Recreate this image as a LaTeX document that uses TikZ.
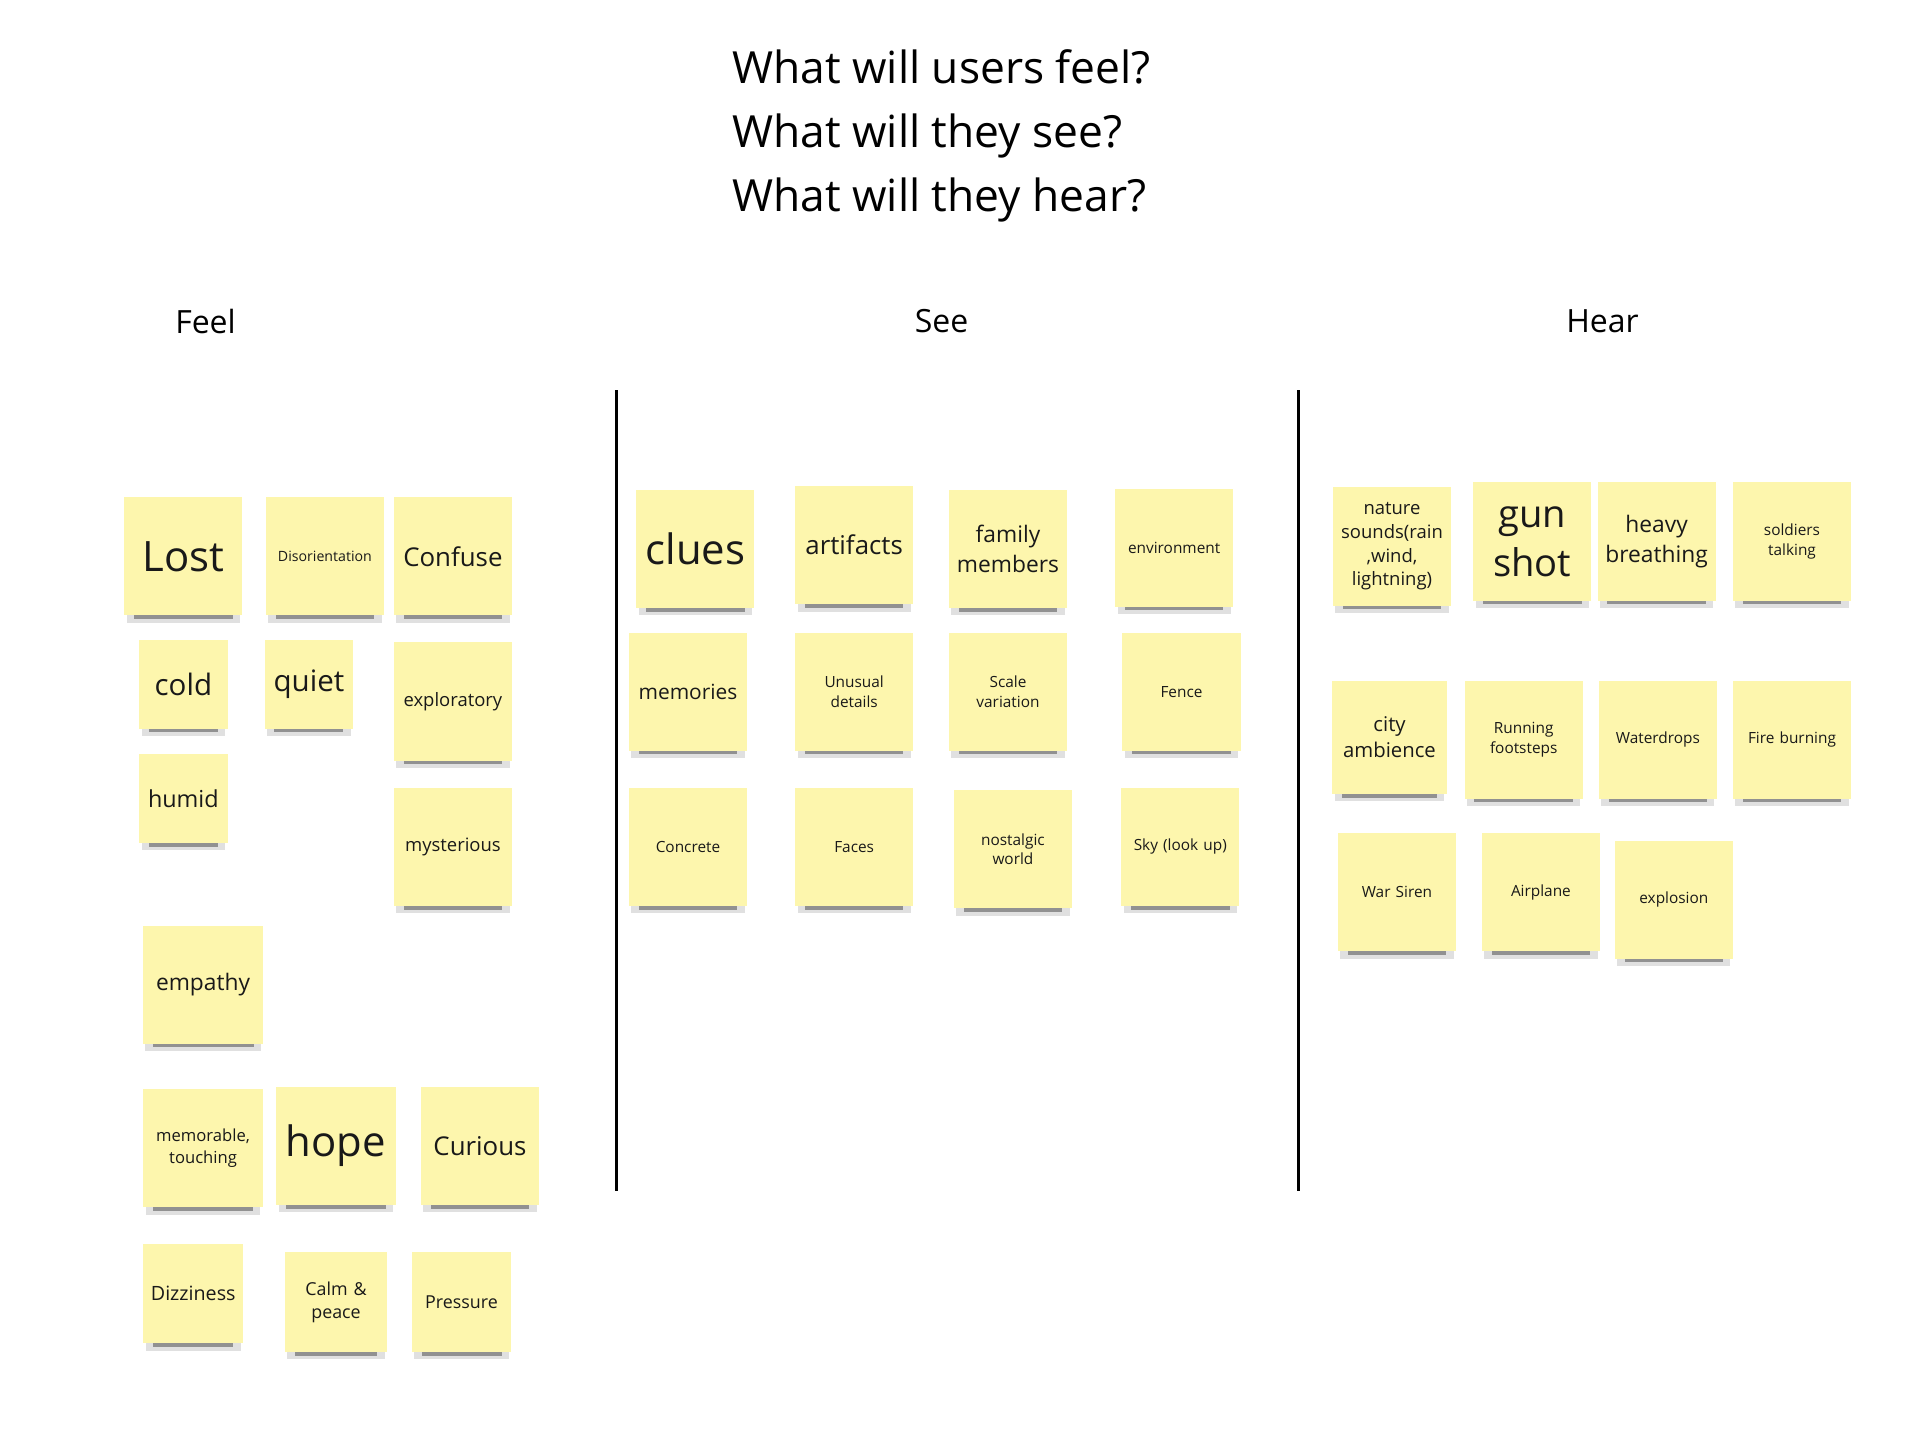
\documentclass[tikz,border=0pt]{standalone}
\usepackage{fontspec}
\setmainfont{Open Sans}
\definecolor{stick}{HTML}{FDF6AD}
\tikzset{sticky/.style={fill=stick,draw=none,inner sep=0pt,align=center,text=black!90}}
\newcommand\note[7]{%
 \pgfmathsetmacro\fs{#6*0.5}\pgfmathsetmacro\bs{#6*0.64}%
 \fill[black,opacity=0.12] (#2-#4/2+2,#3+#5/2-4) rectangle (#2+#4/2-2,#3+#5/2+6);
 \fill[black,opacity=0.35] (#2-#4/2+8,#3+#5/2-2) rectangle (#2+#4/2-8,#3+#5/2+3);
 \node[sticky,minimum width=#4*0.5pt,minimum height=#5*0.5pt,text width=#4*0.5pt-5pt,font=\fontsize{\fs}{\bs}\selectfont] (#1) at (#2,#3) {#7};}
\begin{document}
\begin{tikzpicture}[x=0.5pt,y=-0.5pt]
\useasboundingbox[fill=white] (0,0) rectangle (1560,1181);
\node[anchor=west,align=left,font=\fontsize{18}{26}\selectfont] (title) at (588,110) {What will users feel?\\What will they see?\\What will they hear?};
\node[font=\fontsize{13}{16}\selectfont] (feel) at (167,261) {Feel};
\node[font=\fontsize{13}{16}\selectfont] (see) at (765,261) {See};
\node[font=\fontsize{13}{16}\selectfont] (hear) at (1302,261) {Hear};
\coordinate (d1a) at (501,317); \coordinate (d1b) at (501,968);
\coordinate (d2a) at (1055,317); \coordinate (d2b) at (1055,968);
\draw[line width=1.1pt] (d1a)--(d1b); \draw[line width=1.1pt] (d2a)--(d2b);
% Feel
\note{lost}{149}{452}{96}{96}{34}{Lost}
\note{dis}{264}{452}{96}{96}{11.5}{Disorientation}
\note{conf}{368}{452}{96}{96}{21}{Confuse}
\note{cold}{149}{556}{72}{72}{24}{cold}
\note{quiet}{251}{556}{72}{72}{24}{quiet}
\note{expl}{368}{570}{96}{96}{15}{exploratory}
\note{humid}{149}{649}{72}{72}{19}{humid}
\note{myst}{368}{688}{96}{96}{15}{mysterious}
\note{emp}{165}{800}{98}{96}{18.5}{empathy}
\note{mem}{165}{933}{97}{96}{13.5}{memorable,\\touching}
\note{hope}{273}{931}{97}{96}{34}{hope}
\note{cur}{390}{931}{96}{96}{21}{Curious}
\note{diz}{157}{1051}{81}{81}{16}{Dizziness}
\note{calm}{273}{1058}{83}{81}{14.5}{Calm \&\\peace}
\note{press}{375}{1058}{81}{81}{14.5}{Pressure}
% See
\note{clues}{565}{446}{96}{96}{34}{clues}
\note{art}{694}{443}{96}{96}{21}{artifacts}
\note{fam}{819}{446}{96}{96}{18.5}{family\\members}
\note{env}{954}{445}{96}{96}{12.5}{environment}
\note{memo}{559}{562}{96}{96}{17}{memories}
\note{unus}{694}{562}{96}{96}{12.5}{Unusual\\details}
\note{scale}{819}{562}{96}{96}{12.5}{Scale\\variation}
\note{fence}{960}{562}{96}{96}{12.5}{Fence}
\note{conc}{559}{688}{96}{96}{12.5}{Concrete}
\note{faces}{694}{688}{96}{96}{12.5}{Faces}
\note{nost}{823}{690}{96}{96}{12.5}{nostalgic\\world}
\note{sky}{959}{688}{96}{96}{12.5}{Sky (look up)}
% Hear
\note{nat}{1131}{444}{96}{96}{15}{nature\\sounds(rain\\,wind,\\lightning)}
\note{gun}{1245}{440}{96}{96}{31}{gun\\shot}
\note{heavy}{1346}{440}{96}{96}{18.5}{heavy\\breathing}
\note{sold}{1456}{440}{96}{96}{12.5}{soldiers\\talking}
\note{city}{1129}{599}{93}{92}{16.5}{city\\ambience}
\note{run}{1238}{601}{96}{96}{12.5}{Running\\footsteps}
\note{water}{1347}{601}{96}{96}{12.5}{Waterdrops}
\note{fire}{1456}{601}{96}{96}{12.5}{Fire burning}
\note{siren}{1135}{725}{96}{96}{12.5}{War Siren}
\note{air}{1252}{725}{96}{96}{12.5}{Airplane}
\note{expo}{1360}{731}{96}{96}{12.5}{explosion}
\end{tikzpicture}
\end{document}
